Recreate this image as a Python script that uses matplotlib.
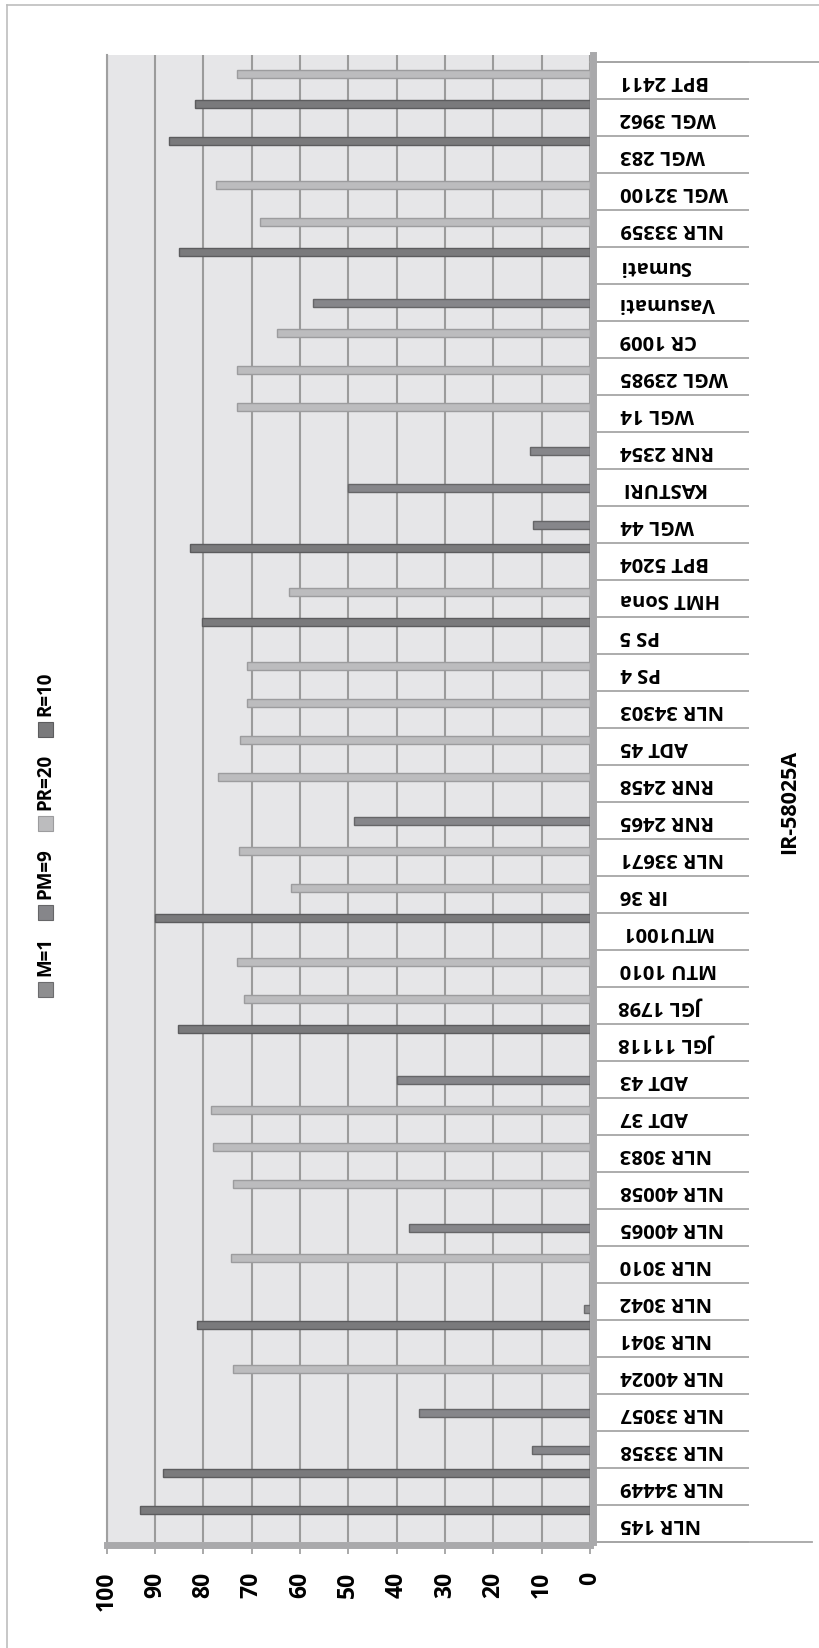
import matplotlib
matplotlib.use("Agg")
import matplotlib.pyplot as plt
from matplotlib.patches import Rectangle
from matplotlib.lines import Line2D
import numpy as np

plt.rcParams['font.family'] = ['Open Sans', 'DejaVu Sans']
plt.rcParams['font.weight'] = 'bold'

# varieties, listed from the bottom of the chart to the top
varieties = ['NLR 145', 'NLR 34449', 'NLR 33358', 'NLR 33057', 'NLR 40024',
             'NLR 3041', 'NLR 3042', 'NLR 3010', 'NLR 40065', 'NLR 40058',
             'NLR 3083', 'ADT 37', 'ADT 43', 'JGL 11118', 'JGL 1798',
             'MTU 1010', 'MTU1001', 'IR 36', 'NLR 33671', 'RNR 2465',
             'RNR 2458', 'ADT 45', 'NLR 34303', 'PS 4', 'PS 5',
             'HMT Sona', 'BPT 5204', 'WGL 44', 'KASTURI', 'RNR 2354',
             'WGL 14', 'WGL 23985', 'CR 1009', 'Vasumati', 'Sumati',
             'NLR 33359', 'WGL 32100', 'WGL 283', 'WGL 3962', 'BPT 2411']

m1 = [0, 0, 0, 0, 0, 0, 1.2, 0, 0, 0,
      0, 0, 0, 0, 0, 0, 0, 0, 0, 0,
      0, 0, 0, 0, 0, 0, 0, 0, 0, 0,
      0, 0, 0, 0, 0, 0, 0, 0, 0, 0]
pm9 = [0, 0, 12.1, 35.3, 0, 0, 0, 0, 37.4, 0,
       0, 0, 40.0, 0, 0, 0, 0, 0, 0, 48.8,
       0, 0, 0, 0, 0, 0, 0, 11.7, 50.1, 12.4,
       0, 0, 0, 57.4, 0, 0, 0, 0, 0, 0]
pr20 = [0, 0, 0, 0, 73.8, 0, 0, 74.3, 0, 73.9,
        78.1, 78.5, 0, 0, 71.6, 73.0, 0, 61.9, 72.6, 0,
        77.0, 72.4, 71.0, 71.0, 0, 62.3, 0, 0, 0, 0,
        73.0, 73.0, 64.8, 0, 0, 68.3, 77.4, 0, 0, 73.1]
r10 = [93.1, 88.4, 0, 0, 0, 81.4, 0, 0, 0, 0,
       0, 0, 0, 85.3, 0, 0, 90.0, 0, 0, 0,
       0, 0, 0, 0, 80.3, 0, 82.8, 0, 0, 0,
       0, 0, 0, 0, 85.0, 0, 0, 87.2, 81.7, 0]

series_names = ['M=1', 'PM=9', 'PR=20', 'R=10']
series_values = [m1, pm9, pr20, r10]
series_colors = ['#8e8e90', '#86868a', '#bcbcbe', '#7a7a7c']
edge_colors = ['#6c6c6e', '#666668', '#9c9c9e', '#5c5c5e']
title = 'IR-58025A'

W, H = 819, 1649
fig = plt.figure(figsize=(W / 100, H / 100), dpi=100)
fig.patch.set_facecolor('white')

# plot area (back wall)
ax_w = 590 - 106.7
ax = fig.add_axes([106.7 / W, 1 - 1542.7 / H, ax_w / W, (1542.7 - 56) / H])
ax.set_facecolor('#e6e6e8')

y = np.arange(len(varieties))
# cluster slot for each series (M=1 at the bottom of a band, R=10 at the top)
for slot, (vals, col, ecol) in enumerate(zip(series_values, series_colors, edge_colors)):
    vals = np.array(vals, dtype=float)
    keep = vals > 0
    off = -0.205 + 0.185 * slot
    ax.barh(y[keep] + off, vals[keep], height=0.22, color=col,
            edgecolor=ecol, linewidth=1.0, zorder=3)

ax.set_xlim(100, 0)
ax.set_ylim(-0.5, len(varieties) - 0.5 + 0.18)

# value axis
ax.set_xticks(np.arange(0, 101, 10))
ax.xaxis.grid(True, color='#9b9b9b', linewidth=1.5)
ax.set_axisbelow(True)
ax.tick_params(axis='x', direction='out', length=6.5, width=1.2, color='#9b9b9b',
               pad=12, labelsize=16.5, labelrotation=90)
for lab in ax.get_xticklabels():
    lab.set_fontweight('bold')

# category axis on the right: separator ticks between bands
ax.yaxis.tick_right()
ax.set_yticks(np.arange(-0.5, len(varieties), 1.0))
ax.set_yticklabels([])
ax.tick_params(axis='y', which='major', direction='out', length=112, width=1.3,
               color='#a6a6a6')

# upside-down category labels
for yi, name in zip(y, varieties):
    ax.text(1 + 30 / ax_w, yi, name, transform=ax.get_yaxis_transform(),
            rotation=180, ha='left', va='center', fontsize=14.5,
            fontweight='bold', clip_on=False)

# the long lines closing the label column
ax.plot([1.0, 1.5], [len(varieties) - 0.5] * 2, transform=ax.get_yaxis_transform(),
        color='#a6a6a6', lw=1.3, clip_on=False)
ax.plot([1.0, 1.46], [-0.5, -0.5], transform=ax.get_yaxis_transform(),
        color='#a6a6a6', lw=1.3, clip_on=False)

ax.spines['top'].set_visible(False)
ax.spines['left'].set_color('#a0a0a0')
ax.spines['left'].set_linewidth(1.5)
for side in ['right', 'bottom']:
    ax.spines[side].set_color('#a9a9ab')
    ax.spines[side].set_linewidth(5)
    ax.spines[side].set_position(('outward', 2.5))

# title along the right edge
fig.text(790 / W, 1 - 802 / H, title, rotation=90, ha='center', va='center',
         fontsize=15.5, fontweight='bold')

# legend, reading bottom to top on the left side
renderer = fig.canvas.get_renderer()
ypx = 998
for name, col, ecol in zip(series_names, series_colors, edge_colors):
    fig.add_artist(Rectangle((38 / W, 1 - ypx / H), 15 / W, 15 / H,
                             transform=fig.transFigure, facecolor=col,
                             edgecolor=ecol, linewidth=0.8))
    ypx -= 15 + 7
    t = fig.text(45.5 / W, 1 - ypx / H, name, rotation=90, ha='center', va='bottom',
                 fontsize=13.5, fontweight='bold')
    ypx -= t.get_window_extent(renderer).height + 16

# chart area border
fig.add_artist(Line2D([7 / W, 1], [1 - 6 / H] * 2, transform=fig.transFigure,
                      color='#bdbdbd', lw=1.2))
fig.add_artist(Line2D([7 / W] * 2, [0, 1 - 6 / H], transform=fig.transFigure,
                      color='#bdbdbd', lw=1.2))

fig.savefig('out.png', dpi=100)
